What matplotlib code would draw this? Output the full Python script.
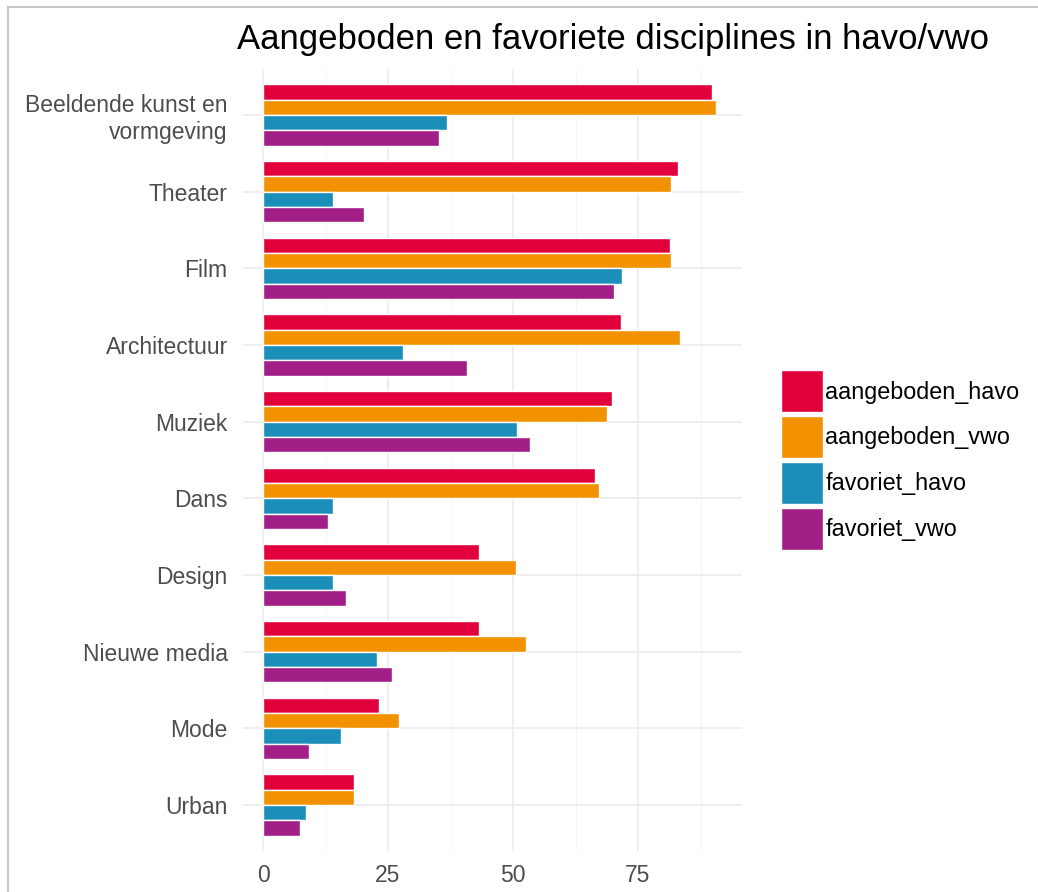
import numpy as np
import matplotlib
matplotlib.use("Agg")
import matplotlib.pyplot as plt
from matplotlib.patches import Patch
from matplotlib.lines import Line2D

plt.rcParams['font.family'] = ['Liberation Sans', 'DejaVu Sans']

categories = ["Beeldende kunst en\nvormgeving", "Theater", "Film", "Architectuur",
              "Muziek", "Dans", "Design", "Nieuwe media", "Mode", "Urban"]
aangeboden_havo = [89.8, 83.0, 81.4, 71.6, 69.8, 66.4, 43.2, 43.2, 23.2, 18.2]
aangeboden_vwo = [90.6, 81.6, 81.6, 83.4, 68.8, 67.2, 50.6, 52.6, 27.2, 18.2]
favoriet_havo = [36.8, 14.0, 71.8, 28.0, 50.8, 14.0, 14.0, 22.8, 15.6, 8.6]
favoriet_vwo = [35.2, 20.2, 70.2, 40.8, 53.4, 13.0, 16.6, 25.8, 9.2, 7.4]

series = [("aangeboden_havo", aangeboden_havo, "#e2003c"),
          ("aangeboden_vwo", aangeboden_vwo, "#f39200"),
          ("favoriet_havo", favoriet_havo, "#1b8fba"),
          ("favoriet_vwo", favoriet_vwo, "#a11f86")]

fig = plt.figure(figsize=(10.38, 8.92), dpi=100)
ax = fig.add_axes([243/1038, 1-851/892, (742-243)/1038, (851-69)/892])

y = np.arange(len(categories))
h = 0.8 / 4
handles = []
for i, (name, vals, col) in enumerate(series):
    ax.barh(y - 0.4 + h*(i + 0.5), vals, height=h, color=col,
            edgecolor="white", linewidth=1, zorder=3)
    handles.append(Patch(facecolor=col, edgecolor="white", label=name))

ax.set_ylim(len(categories) - 0.4, -0.6)
ax.set_xlim(-4, 95.8)
ax.set_xticks([0, 25, 50, 75])
ax.set_xticks([12.5, 37.5, 62.5, 87.5], minor=True)
ax.set_yticks(y)
ax.set_yticklabels(categories, ha="right", multialignment="right")
ax.tick_params(axis="both", length=0, labelsize=16.5, labelcolor="#4d4d4d")
ax.tick_params(axis="y", pad=11)
ax.tick_params(axis="x", pad=9)
ax.tick_params(which="minor", length=0)
ax.grid(which="major", color="#ebebeb", linewidth=1.2, zorder=0)
ax.grid(which="minor", axis="x", color="#f4f4f4", linewidth=0.7, zorder=0)
for s in ax.spines.values():
    s.set_visible(False)

fig.text(237/1038, 1-40/892, "Aangeboden en favoriete disciplines in havo/vwo",
         fontsize=25, ha="left", va="center", color="black")

fig.legend(handles=handles, loc="center left", bbox_to_anchor=(781/1038, 1-460/892),
           frameon=False, fontsize=16.8, handlelength=1.8, handleheight=2.39,
           handletextpad=0.1, labelspacing=0.16, borderaxespad=0, borderpad=0)

# frame of the screenshot
fig.add_artist(Line2D([8/1038, 8/1038], [0, 1-7/892], color="#c8c8c8", linewidth=1.5))
fig.add_artist(Line2D([8/1038, 1], [1-7/892, 1-7/892], color="#c8c8c8", linewidth=1.5))

fig.savefig("out.png", dpi=100)
